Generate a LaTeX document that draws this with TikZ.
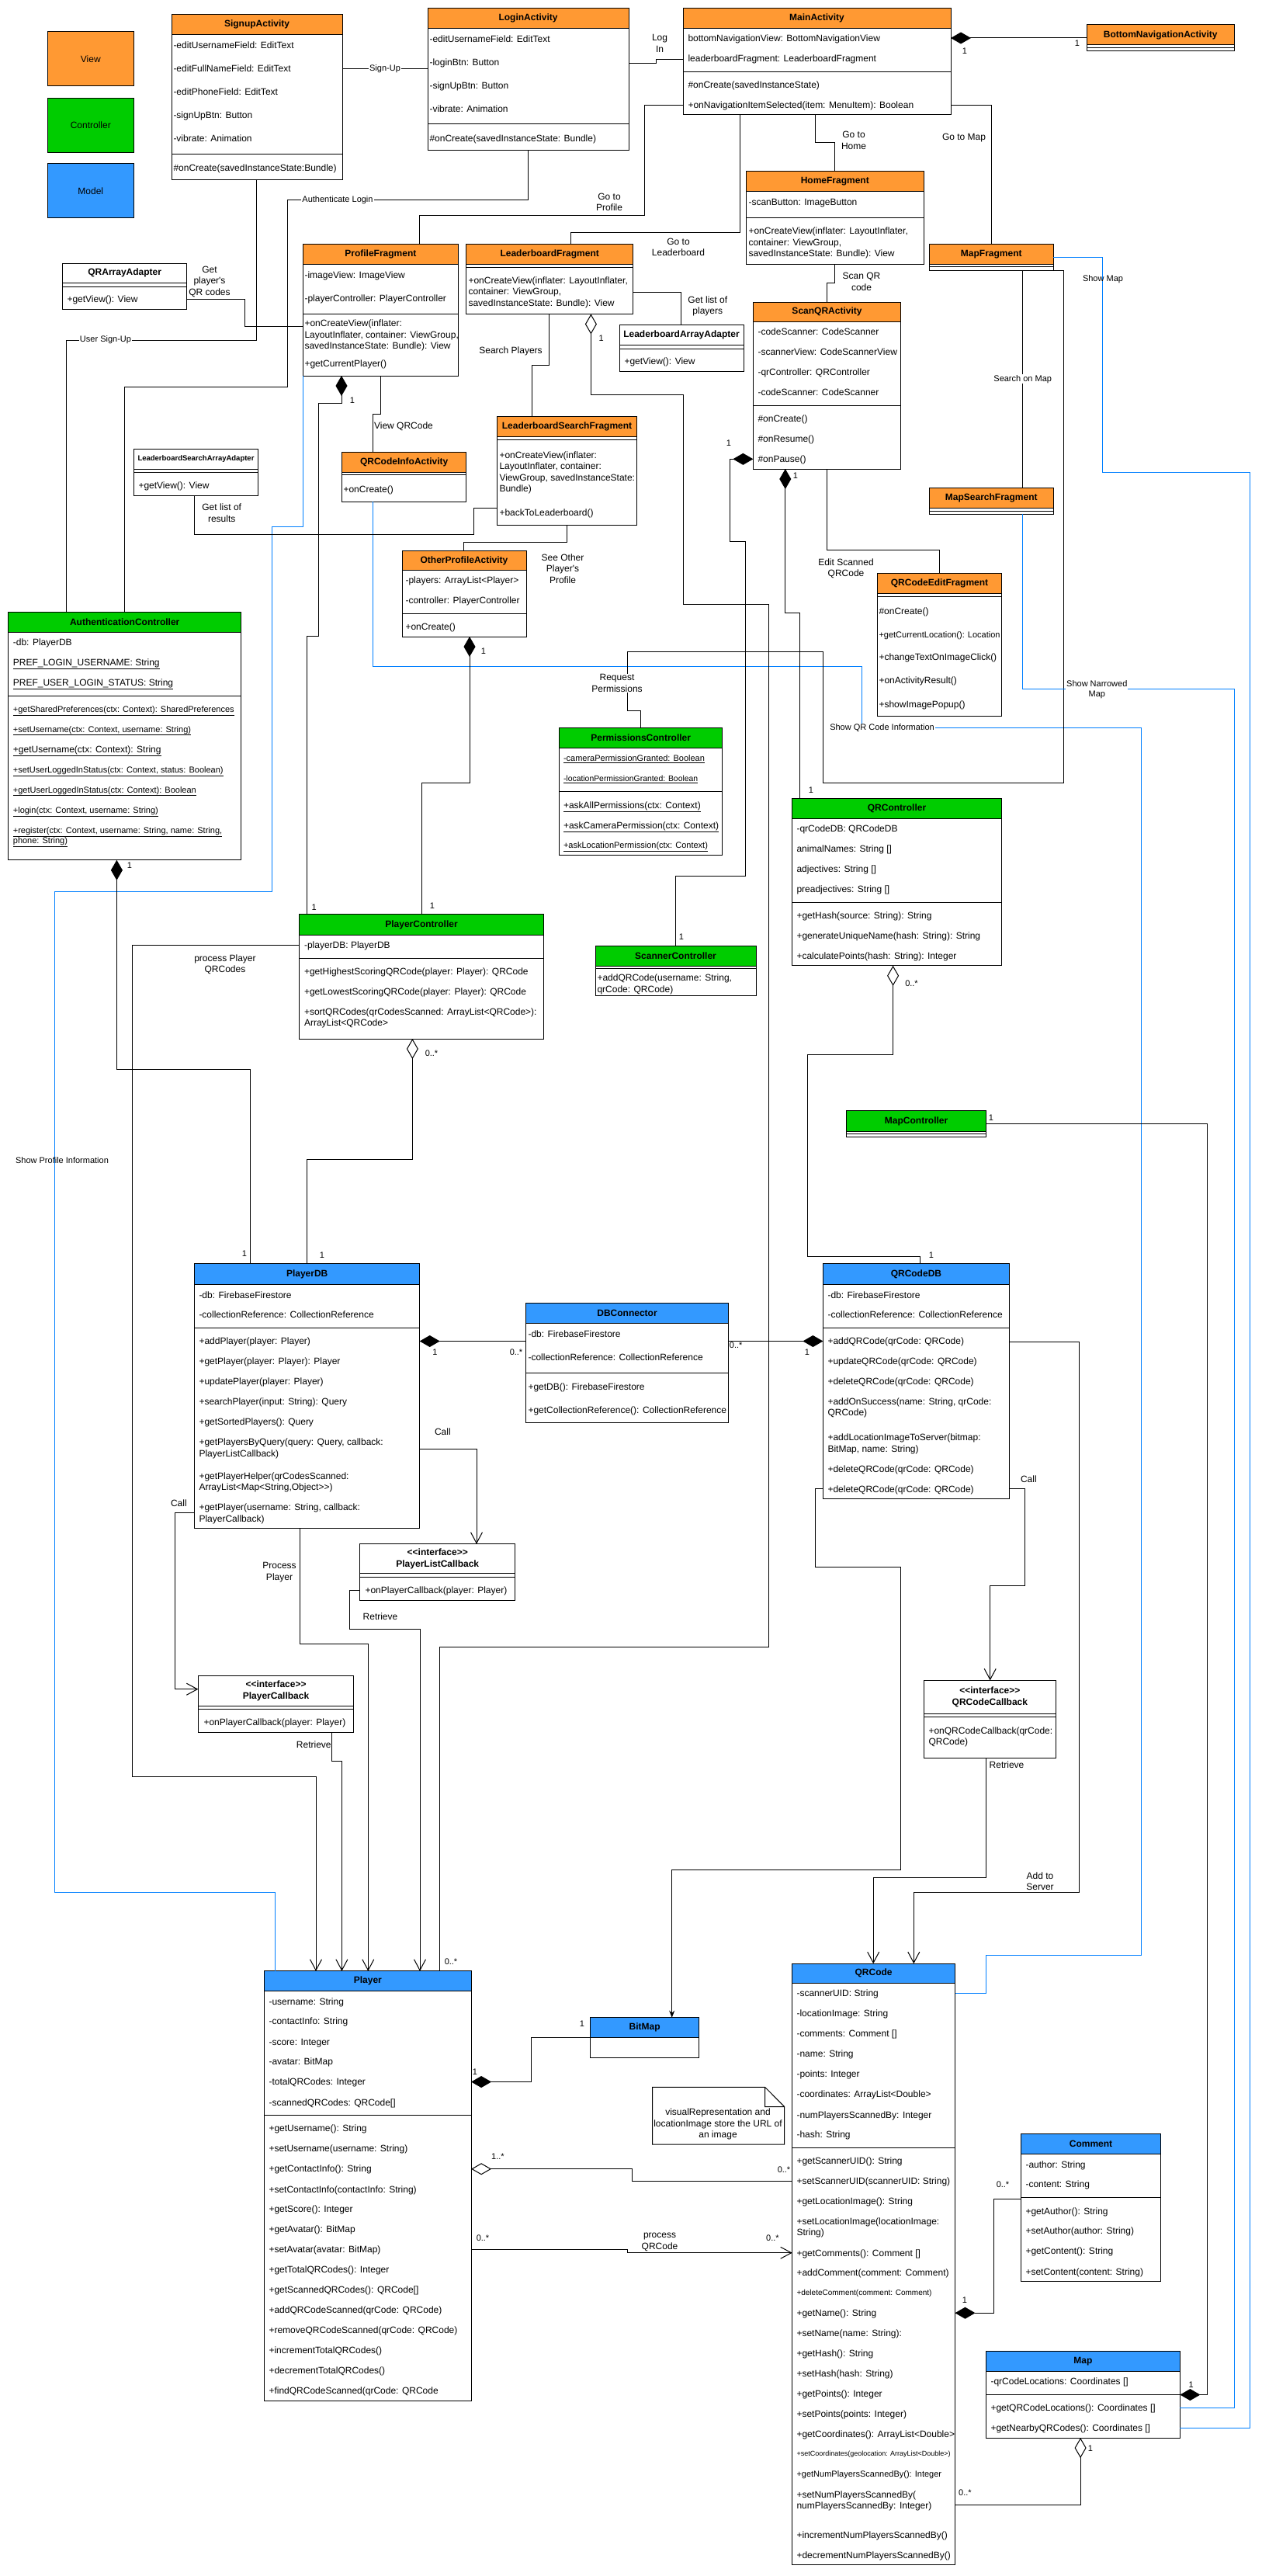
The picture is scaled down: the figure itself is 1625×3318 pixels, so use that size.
\documentclass[tikz,border=0pt]{standalone}
\usepackage{fontspec}
\setmainfont{Liberation Sans}[Ligatures=TeXOff]
\usepackage{tikz}
\usetikzlibrary{arrows.meta,fit}
\tikzset {>=Stealth}
\definecolor{viewc}{HTML}{FF9933}
\definecolor{ctrlc}{HTML}{00CC00}
\definecolor{modelc}{HTML}{3399FF}
\definecolor{linkc}{HTML}{007FFF}
\newcommand{\fs}[1]{\fontsize{#1}{#1}\selectfont}
\tikzset{
  row/.style={anchor=base west, inner sep=0pt, yshift=-4.3pt, font=\fs{12}},
  ttl/.style={inner sep=0pt, align=center, font=\bfseries\fontsize{12}{14.5}\selectfont},
  lbl/.style={inner sep=1pt, align=center, font=\fontsize{12}{14.5}\selectfont},
  slbl/.style={inner sep=1pt, align=center, font=\fontsize{11}{13}\selectfont},
  mult/.style={inner sep=0pt, font=\fs{11}},
  legend/.style={draw, minimum width=111.5pt, minimum height=70pt, inner sep=0pt, font=\fs{12}},
  comp/.style={{Diamond[length=26pt,width=15pt]}-},
  agg/.style={{Diamond[open,fill=white,length=26pt,width=15pt]}-},
  oarr/.style={-{Straight Barb[length=14pt,width=15pt]}},
  bline/.style={draw=linkc},
}
% name, left, top, right, bottom, header bottom, colour, title
\newcommand{\umlclass}[8]{%
  \fill[white] (#2,#3) rectangle (#4,#5);
  \fill[#7] (#2,#3) rectangle (#4,#6);
  \draw (#2,#6) -- (#4,#6);
  \node[fit={(#2,#3) (#4,#5)}, draw, inner sep=0pt, outer sep=0pt] (#1) {};
  \node[ttl] (#1-t) at ({(#2+#4)/2},{(#3+#6)/2}) {#8};
}
\newcommand{\sep}[2]{\draw (#1.west |- 0,#2) -- (#1.east |- 0,#2);}
\newcommand{\rows}[3]{\foreach \yy/\tx [count=\i] in {#3} {\node[row] (#1-\i) at (#2,\yy) {\tx};}}

\begin{document}
\begin{tikzpicture}[x=1pt, y=-1pt, line width=1pt]
\useasboundingbox (0,0) rectangle (1625,3318);
\fill[white] (0,0) rectangle (1625,3318);

\node[legend, fill=viewc] (lg-view) at (116.8,76) {View};
\node[legend, fill=ctrlc] (lg-ctrl) at (116.8,161.3) {Controller};
\node[legend, fill=modelc] (lg-model) at (116.8,246) {Model};

\umlclass{signup}{221}{18.5}{441}{232}{44.5}{viewc}{SignupActivity}
\sep{signup}{198.5}
\rows{signup}{223}{58/{-editUsernameField: EditText},88/{-editFullNameField: EditText},118/{-editPhoneField: EditText},148/{-signUpBtn: Button},178/{-vibrate: Animation},216.5/{\#onCreate(savedInstanceState:Bundle)}}

\umlclass{login}{551}{10.6}{810}{194}{36.5}{viewc}{LoginActivity}
\sep{login}{160}
\rows{login}{553}{50/{-editUsernameField: EditText},80.5/{-loginBtn: Button},110/{-signUpBtn: Button},140/{-vibrate: Animation},178/{\#onCreate(savedInstanceState: Bundle)}}

\umlclass{main}{880}{10.6}{1225}{148}{36.5}{viewc}{MainActivity}
\sep{main}{92.6}
\rows{main}{886}{49/{bottomNavigationView: BottomNavigationView},75/{leaderboardFragment: LeaderboardFragment},109/{\#onCreate(savedInstanceState)},135/{+onNavigationItemSelected(item: MenuItem): Boolean}}

\umlclass{bottomnav}{1400.5}{32}{1590}{66}{58}{viewc}{BottomNavigationActivity}
\sep{bottomnav}{62}

\umlclass{home}{961}{221}{1190.5}{340}{246.7}{viewc}{HomeFragment}
\sep{home}{280.6}
\rows{home}{964}{260.5/{-scanButton: ImageButton},297.5/{+onCreateView(inflater: LayoutInflater,},311.8/{container: ViewGroup,},326/{savedInstanceState: Bundle): View}}

\umlclass{map}{1197.5}{314.5}{1357}{348}{340}{viewc}{MapFragment}
\sep{map}{343.5}

\umlclass{scanqr}{970.4}{389}{1160.6}{604}{414.5}{viewc}{ScanQRActivity}
\sep{scanqr}{522.5}
\rows{scanqr}{976}{427/{-codeScanner: CodeScanner},453/{-scannerView: CodeScannerView},479/{-qrController: QRController},505/{-codeScanner: CodeScanner},539.5/{\#onCreate()},565.4/{\#onResume()},591.3/{\#onPause()}}

\umlclass{qrarray}{80.7}{339}{240.7}{398}{364}{white}{QRArrayAdapter}
\sep{qrarray}{369}
\rows{qrarray}{86}{385/{+getView(): View}}

\umlclass{profile}{390.7}{314.5}{590}{484}{340}{viewc}{ProfileFragment}
\sep{profile}{404.5}
\rows{profile}{392}{354/{-imageView: ImageView},384/{-playerController: PlayerController},416/{+onCreateView(inflater:},431/{LayoutInflater, container: ViewGroup,},445/{savedInstanceState: Bundle): View},468.5/{+getCurrentPlayer()}}

\umlclass{leader}{600.7}{314.5}{815.7}{404.5}{340}{viewc}{LeaderboardFragment}
\sep{leader}{344.6}
\rows{leader}{603}{361/{+onCreateView(inflater: LayoutInflater,},375/{container: ViewGroup,},390/{savedInstanceState: Bundle): View}}

\umlclass{leaderarray}{798}{418.7}{958}{478}{444.7}{white}{LeaderboardArrayAdapter}
\sep{leaderarray}{449}
\rows{leaderarray}{804}{465/{+getView(): View}}

\umlclass{lsearch}{640.7}{536.8}{820.4}{676}{562}{viewc}{LeaderboardSearchFragment}
\sep{lsearch}{566}
\rows{lsearch}{643}{586/{+onCreateView(inflater:},600/{LayoutInflater, container:},615/{ViewGroup, savedInstanceState:},629/{Bundle)},660/{+backToLeaderboard()}}

\umlclass{lsarray}{172.5}{578.6}{332.5}{638.4}{604}{white}{\fs{9.5}LeaderboardSearchArrayAdapter}
\sep{lsarray}{608.8}
\rows{lsarray}{178}{625/{+getView(): View}}

\umlclass{qrinfo}{440.7}{582}{600.7}{646}{608}{viewc}{QRCodeInfoActivity}
\sep{qrinfo}{611.5}
\rows{qrinfo}{442}{630/{+onCreate()}}

\umlclass{other}{518}{709.4}{678}{820}{734.8}{viewc}{OtherProfileActivity}
\sep{other}{790}
\rows{other}{522}{747.5/{-players: ArrayList<Player>},773.4/{-controller: PlayerController},807/{+onCreate()}}

\umlclass{qredit}{1130.7}{738.5}{1290.3}{922}{764.4}{viewc}{QRCodeEditFragment}
\sep{qredit}{768.7}
\rows{qredit}{1132}{786.7/{\#onCreate()},817.4/{\fs{11}+getCurrentLocation(): Location},846.6/{+changeTextOnImageClick()},876.4/{+onActivityResult()},906.7/{+showImagePopup()}}

\umlclass{mapsearch}{1197.5}{628.4}{1357}{662.3}{654.8}{viewc}{MapSearchFragment}
\sep{mapsearch}{658.5}

\umlclass{auth}{10.7}{788.8}{310.7}{1107.8}{814}{ctrlc}{AuthenticationController}
\sep{auth}{896.4}
\rows{auth}{16.4}{827.6/{-db: PlayerDB},853/{\underline{PREF\_LOGIN\_USERNAME: String}},879/{\underline{PREF\_USER\_LOGIN\_STATUS: String}},913/{\fs{11}\underline{+getSharedPreferences(ctx: Context): SharedPreferences}},938.7/{\fs{11}\underline{+setUsername(ctx: Context, username: String)}},965/{\underline{+getUsername(ctx: Context): String}},991/{\fs{11}\underline{+setUserLoggedInStatus(ctx: Context, status: Boolean)}},1016.7/{\fs{11}\underline{+getUserLoggedInStatus(ctx: Context): Boolean}},1042.8/{\fs{11}\underline{+login(ctx: Context, username: String)}},1068.8/{\fs{11}\underline{+register(ctx: Context, username: String, name: String,}},1082/{\fs{11}\underline{phone: String)}}}

\umlclass{perm}{720.7}{937.6}{930.7}{1101.3}{963.6}{ctrlc}{PermissionsController}
\sep{perm}{1019.5}
\rows{perm}{725.5}{976/{\fs{11}\underline{-cameraPermissionGranted: Boolean}},1002/{\fs{10.4}\underline{-locationPermissionGranted: Boolean}},1036.8/{\underline{+askAllPermissions(ctx: Context)}},1062.8/{\underline{+askCameraPermission(ctx: Context)}},1088/{\fs{11}\underline{+askLocationPermission(ctx: Context)}}}

\umlclass{pctrl}{385.4}{1177.7}{700.7}{1338}{1204.3}{ctrlc}{PlayerController}
\sep{pctrl}{1234.6}
\rows{pctrl}{391.5}{1217.3/{-playerDB: PlayerDB},1251.4/{+getHighestScoringQRCode(player: Player): QRCode},1277.5/{+getLowestScoringQRCode(player: Player): QRCode},1303/{+sortQRCodes(qrCodesScanned: ArrayList<QRCode>):},1317/{ArrayList<QRCode>}}

\umlclass{scanner}{767}{1218.4}{974}{1282.3}{1244.4}{ctrlc}{ScannerController}
\sep{scanner}{1247.6}
\rows{scanner}{769}{1259/{+addQRCode(username: String,},1274/{qrCode: QRCode)}}

\umlclass{qrctrl}{1020.7}{1028.7}{1290.3}{1243.8}{1054.7}{ctrlc}{QRController}
\sep{qrctrl}{1162.5}
\rows{qrctrl}{1026}{1067/{-qrCodeDB: QRCodeDB},1093/{animalNames: String []},1119/{adjectives: String []},1145/{preadjectives: String []},1179/{+getHash(source: String): String},1205/{+generateUniqueName(hash: String): String},1231/{+calculatePoints(hash: String): Integer}}

\umlclass{mapctrl}{1090.4}{1430.8}{1270.8}{1464}{1457}{ctrlc}{MapController}
\sep{mapctrl}{1460.5}

\umlclass{playerdb}{250.7}{1627.6}{540.7}{1968}{1654.3}{modelc}{PlayerDB}
\sep{playerdb}{1710.7}
\rows{playerdb}{256}{1668/{-db: FirebaseFirestore},1693.4/{-collectionReference: CollectionReference},1727.5/{+addPlayer(player: Player)},1753.5/{+getPlayer(player: Player): Player},1779.5/{+updatePlayer(player: Player)},1805.6/{+searchPlayer(input: String): Query},1831.6/{+getSortedPlayers(): Query},1857.6/{+getPlayersByQuery(query: Query, callback:},1871.7/{PlayerListCallback)},1901.5/{+getPlayerHelper(qrCodesScanned:},1915.6/{ArrayList<Map<String,Object>>)},1941.6/{+getPlayer(username: String, callback:},1955.7/{PlayerCallback)}}

\umlclass{dbconn}{677.9}{1678.7}{938.2}{1832.7}{1704.7}{modelc}{DBConnector}
\sep{dbconn}{1768}
\rows{dbconn}{680}{1718.3/{-db: FirebaseFirestore},1748/{-collectionReference: CollectionReference},1786/{+getDB(): FirebaseFirestore},1815.9/{+getCollectionReference(): CollectionReference}}

\umlclass{qrcodedb}{1060.4}{1627.6}{1300.4}{1930.2}{1654.3}{modelc}{QRCodeDB}
\sep{qrcodedb}{1710.7}
\rows{qrcodedb}{1066}{1668/{-db: FirebaseFirestore},1693.4/{-collectionReference: CollectionReference},1727.5/{+addQRCode(qrCode: QRCode)},1753.5/{+updateQRCode(qrCode: QRCode)},1779.5/{+deleteQRCode(qrCode: QRCode)},1805.6/{+addOnSuccess(name: String, qrCode:},1819.6/{QRCode)},1851/{+addLocationImageToServer(bitmap:},1865.7/{BitMap, name: String)},1891.7/{+deleteQRCode(qrCode: QRCode)},1917.7/{+deleteQRCode(qrCode: QRCode)}}

\umlclass{plistcb}{463.6}{1988.7}{663.9}{2061.4}{2026.7}{white}{<\kern0pt<interface>\kern0pt>\\PlayerListCallback}
\sep{plistcb}{2031}
\rows{plistcb}{470}{2048.4/{+onPlayerCallback(player: Player)}}

\umlclass{pcb}{255.4}{2158.4}{455.7}{2231.6}{2197.4}{white}{<\kern0pt<interface>\kern0pt>\\PlayerCallback}
\sep{pcb}{2201}
\rows{pcb}{262}{2218/{+onPlayerCallback(player: Player)}}

\umlclass{qrcb}{1190.2}{2164.4}{1360.5}{2264}{2207.7}{white}{<\kern0pt<interface>\kern0pt>\\QRCodeCallback}
\sep{qrcb}{2211.5}
\rows{qrcb}{1196}{2229.4/{+onQRCodeCallback(qrCode:},2243.5/{QRCode)}}

\umlclass{player}{340.7}{2538.8}{607.1}{3092}{2564.4}{modelc}{Player}
\sep{player}{2724.3}
\rows{player}{346}{2577.8/{-username: String},2603.5/{-contactInfo: String},2629.7/{-score: Integer},2655.3/{-avatar: BitMap},2681.5/{-totalQRCodes: Integer},2707.7/{-scannedQRCodes: QRCode[]},2741.4/{+getUsername(): String},2767.5/{+setUsername(username: String)},2793.2/{+getContactInfo(): String},2820/{+setContactInfo(contactInfo: String)},2845.6/{+getScore(): Integer},2871.2/{+getAvatar(): BitMap},2897.4/{+setAvatar(avatar: BitMap)},2923.6/{+getTotalQRCodes(): Integer},2949.3/{+getScannedQRCodes(): QRCode[]},2975.5/{+addQRCodeScanned(qrCode: QRCode)},3001/{+removeQRCodeScanned(qrCode: QRCode)},3027.3/{+incrementTotalQRCodes()},3053.5/{+decrementTotalQRCodes()},3079.2/{+findQRCodeScanned(qrCode: QRCode}}

\umlclass{bitmap}{760.7}{2598.7}{900.7}{2650}{2624.3}{modelc}{BitMap}

\umlclass{qrcode}{1020.7}{2529.2}{1230.5}{3303.6}{2554.3}{modelc}{QRCode}
\sep{qrcode}{2766.5}
\rows{qrcode}{1026}{2567/{-scannerUID: String},2593.3/{-locationImage: String},2619.5/{-comments: Comment []},2645/{-name: String},2671.3/{-points: Integer},2697.5/{-coordinates: ArrayList<Double>},2723.7/{-numPlayersScannedBy: Integer},2749.4/{-hash: String},2783/{+getScannerUID(): String},2809.2/{+setScannerUID(scannerUID: String)},2835.4/{+getLocationImage(): String},2861/{+setLocationImage(locationImage:},2875.5/{String)},2901.7/{+getComments(): Comment []},2927.4/{+addComment(comment: Comment)},2952.5/{\fs{10}+deleteComment(comment: Comment)},2979.2/{+getName(): String},3005.4/{+setName(name: String):},3031/{+getHash(): String},3057.2/{+setHash(hash: String)},3083.4/{+getPoints(): Integer},3109.6/{+setPoints(points: Integer)},3135.3/{+getCoordinates(): ArrayList<Double>},3159.3/{\fs{9}+setCoordinates(geolocation: ArrayList<Double>)},3186.6/{\fs{11}+getNumPlayersScannedBy(): Integer},3213.3/{+setNumPlayersScannedBy(},3227.2/{numPlayersScannedBy: Integer)},3265.1/{+incrementNumPlayersScannedBy()},3291.3/{+decrementNumPlayersScannedBy()}}

\umlclass{comment}{1315.7}{2748.3}{1495.4}{2938}{2774.5}{modelc}{Comment}
\sep{comment}{2830.6}
\rows{comment}{1321}{2787.9/{-author: String},2813.5/{-content: String},2847.7/{+getAuthor(): String},2873.4/{+setAuthor(author: String)},2899.6/{+getContent(): String},2925.8/{+setContent(content: String)}}

\umlclass{mapm}{1270.5}{3028.4}{1520.4}{3140}{3054.6}{modelc}{Map}
\sep{mapm}{3084.5}
\rows{mapm}{1276}{3067.4/{-qrCodeLocations: Coordinates []},3101/{+getQRCodeLocations(): Coordinates []},3127.2/{+getNearbyQRCodes(): Coordinates []}}

\draw (840.7,2688.4) -- (985.7,2688.4) -- (1010.7,2713.6) -- (1010.7,2762.2) -- (840.7,2762.2) -- cycle
      (985.7,2688.4) -- (985.7,2713.6) -- (1010.7,2713.6);
\node[lbl] (note) at (925,2736) {visualRepresentation and\\locationImage store the URL of\\an image};

\draw (signup.east |- 0,89) -- node[midway, slbl, fill=white] (e-signup) {Sign-Up} (login.west |- 0,89);
\draw (login.east |- 0,81.5) -- (845,81.5) -- (845,77) -- (main.west |- 0,77);
\draw[comp] (main.east |- 0,49) -- (bottomnav.west |- 0,49);
\draw (main.east |- 0,135.5) -| (map.north -| 1277.4,0);
\draw (main.south -| 1050.7,0) |- (1075.7,184) -- (home.north -| 1075.7,0);
\draw (home.south -| 1075.7,0) |- (1065.7,364) -- (scanqr.north -| 1065.7,0);
\draw (main.west |- 0,135.5) -| (830,278) -| (profile.north -| 540,0);
\draw (main.south -| 953.6,0) |- (735.7,299) -- (leader.north -| 735.7,0);
\draw (login.south -| 680,0) |- (370,258) |- (160.7,498) -- (auth.north -| 160.7,0);
\draw (signup.south -| 330,0) |- (85.7,438) -- (auth.north -| 85.7,0);
\draw (qrarray.east |- 0,385.4) -| (315.7,420) -- (profile.west |- 0,420);
\draw[comp] (profile.south -| 440,0) -- (440,519) -| (410.7,819.5) -| (pctrl.north -| 395.7,0);
\draw (profile.south -| 490,0) |- (480,533) -- (qrinfo.north -| 480,0);
\draw[bline] (profile.south west) -- (390.7,678) -| (350,1148) -| (70.4,2437.5) -| (player.north -| 354.6,0);
\draw[bline] (qrinfo.south -| 480,0) |- (1110,858) |- (1470.3,937.6) |- (1270.5,2518.5) |- (qrcode.east |- 0,2567);
\draw (leader.east |- 0,376.4) -| (leaderarray.north -| 877.9,0);
\draw (leader.south -| 707.9,0) |- (685.7,470) -- (lsearch.north -| 685.7,0);
\draw[agg] (leader.south -| 761.4,0) |- (880.4,508.7) |- (990,778) |- (566,2121) -- (player.north -| 566,0);
\draw (lsearch.south -| 730.4,0) |- (597.9,698.8) -- (other.north -| 597.9,0);
\draw (lsarray.south -| 250,0) |- (610,688) |- (lsearch.west |- 0,654);
\draw[comp] (other.south -| 605,0) |- (543,1008.6) -- (pctrl.north -| 543,0);
\draw[comp] (scanqr.west |- 0,591.3) -| (940.7,697.7) -| (960.4,1128) -| (scanner.north -| 870,0);
\draw[comp] (scanqr.south -| 1011.8,0) |- (1030.4,789) -- (qrctrl.north -| 1030.4,0);
\draw (scanqr.south -| 1065.7,0) |- (1210,708) -- (qredit.north -| 1210,0);
\draw (map.south east) -- (1370,348) |- (1060.4,1008.6) |- (808,839) |- (825.7,915.4) -- (perm.north -| 825.7,0);
\draw (map.south -| 1317.7,0) -- node[midway, slbl, fill=white] (e-searchmap) {Search on Map} (mapsearch.north -| 1317.7,0);
\draw[bline] (map.east |- 0,331.4) -| (1420.3,608) -| (1610.8,3127.2) -- (mapm.east |- 0,3127.2);
\draw[bline] (mapsearch.south -| 1317.4,0) |- (1590,887.7) -- (1590,3101) -- (mapm.east |- 0,3101);
\draw[comp] (mapm.east |- 0,3084.5) -| (1555,1447) -- (mapctrl.east |- 0,1447);
\draw[agg] (qrctrl.south -| 1150.6,0) |- (1040,1358) |- (1185,1618) -- (qrcodedb.north -| 1185,0);
\draw[comp] (auth.south -| 150.4,0) |- (322.9,1377.7) -- (playerdb.north -| 322.9,0);
\draw[agg] (pctrl.south -| 531.4,0) |- (395.7,1493) -- (playerdb.north -| 395.7,0);
\draw[oarr] (pctrl.west |- 0,1217.3) -| (170.7,2288.5) -| (player.north -| 407,0);
\draw[comp] (playerdb.east |- 0,1727.5) -- (dbconn.west |- 0,1727.5);
\draw[comp] (qrcodedb.west |- 0,1727.5) -- (dbconn.east |- 0,1727.5);
\draw[oarr] (playerdb.east |- 0,1866) -| (plistcb.north -| 614,0);
\draw[oarr] (playerdb.west |- 0,1948.6) -| (225.7,2175.7) -- (pcb.west |- 0,2175.7);
\draw[oarr] (playerdb.south -| 386.8,0) |- (474.3,2117.7) -- (player.north -| 474.3,0);
\draw[oarr] (plistcb.west |- 0,2048.4) -| (450.7,2098) -| (player.north -| 541,0);
\draw[oarr] (pcb.south -| 427.9,0) |- (440.4,2268) -- (player.north -| 440.4,0);
\draw[comp] (player.east |- 0,2681.5) -| (684,2624.3) -- (bitmap.west |- 0,2624.3);
\draw[agg] (player.east |- 0,2793.7) -| (814,2809.2) -- (qrcode.west |- 0,2809.2);
\draw[oarr] (player.east |- 0,2897.4) -| (808.6,2901.7) -- (qrcode.west |- 0,2901.7);
\draw[-{Stealth[length=9pt,width=7pt]}] (qrcodedb.west |- 0,1917.2) -| (1050.7,2018.6) -| (1160.6,2408.8) -| (bitmap.north -| 865.7,0);
\draw[oarr] (qrcodedb.east |- 0,1917.2) -| (1320.2,2042) -| (qrcb.north -| 1275.7,0);
\draw[oarr] (qrcb.south -| 1270.5,0) |- (1125.2,2418.6) -- (qrcode.north -| 1125.2,0);
\draw[oarr] (qrcodedb.east |- 0,1728.6) -| (1390.4,2437.5) -| (qrcode.north -| 1177.3,0);
\draw[comp] (qrcode.east |- 0,2979.2) -| (1280.6,2832.8) -- (comment.west |- 0,2832.8);
\draw[agg] (mapm.south -| 1392.1,0) |- (qrcode.east |- 0,3226);

\node[lbl] (e-login) at (850,56) {Log\\In};
\node[lbl] (e-map) at (1242,178) {Go to Map};
\node[lbl] (e-home) at (1100,181) {Go to\\Home};
\node[lbl] (e-scan) at (1110,363) {Scan QR\\code};
\node[lbl] (e-profile) at (785,260.5) {Go to\\Profile};
\node[lbl] (e-leader) at (874,318.5) {Go to\\Leaderboard};
\node[slbl, fill=white] (e-auth) at (435,258) {Authenticate Login};
\node[slbl, fill=white] (e-usersign) at (136,438) {User Sign-Up};
\node[lbl] (e-qrcodes) at (270,362.6) {Get\\player's\\QR codes};
\node[lbl] (e-viewqr) at (520,549.5) {View QRCode};
\node[slbl] (e-showprof) at (80,1495) {Show Profile Information};
\node[slbl, fill=white] (e-showqr) at (1136.5,937.6) {Show QR Code Information};
\node[lbl] (e-players) at (911.8,394.5) {Get list of\\players};
\node[lbl] (e-search) at (658,452) {Search Players};
\node[lbl] (e-other) at (725,732.7) {See Other\\Player's\\Profile};
\node[lbl] (e-results) at (285.7,660.5) {Get list of\\results};
\node[lbl] (e-edit) at (1090,732.5) {Edit Scanned\\QRCode};
\node[lbl, fill=white] (e-perm) at (795,880) {Request\\Permissions};
\node[slbl] (e-showmap) at (1421,360) {Show Map};
\node[slbl, fill=white] (e-narrow) at (1413.3,888) {Show Narrowed\\Map};
\node[lbl] (e-procqr) at (290,1242.5) {process Player\\QRCodes};
\node[lbl] (e-call1) at (570.4,1844) {Call};
\node[lbl] (e-call2) at (230.4,1936) {Call};
\node[lbl] (e-proc) at (360,2025) {Process\\Player};
\node[lbl] (e-ret1) at (490,2082) {Retrieve};
\node[lbl] (e-ret2) at (404.3,2247.3) {Retrieve};
\node[lbl] (e-process) at (850,2888) {process\\QRCode};
\node[lbl] (e-call3) at (1325.4,1905.3) {Call};
\node[lbl] (e-ret3) at (1297,2273.3) {Retrieve};
\node[lbl] (e-server) at (1340,2423) {Add to\\Server};

\foreach \xx/\yy/\tx [count=\i] in {1243/66/1,1388/56/1,454/516/1,404.6/1168.5/1,774.6/435.7/1,581/2527/{0..*},622.9/839/1,557/1167/1,939/571/1,878/1207/1,1025/613/1,1045/1018/1,1277/1439.5/1,1534.6/3071.6/1,1174.5/1267/{0..*},1200/1616.7/1,167/1115/1,315/1615/1,556/1357/{0..*},415/1616.7/1,560.4/1742/1,665/1742/{0..*},1040/1742/1,948.2/1732.4/{0..*},612/2668.7/1,750/2607/1,641.4/2778/{1..*},1010/2794.3/{0..*},622/2883/{0..*},995.4/2883/{0..*},1243/2962.6/1,1292/2814/{0..*},1405/3154/1,1243.4/3211/{0..*}}
  \node[mult] (mult\i) at (\xx,\yy) {\tx};
\end{tikzpicture}
\end{document}
